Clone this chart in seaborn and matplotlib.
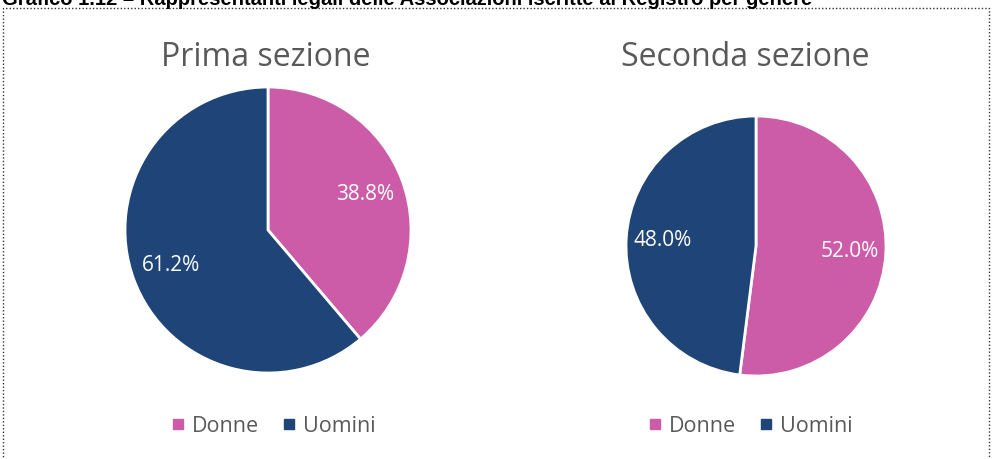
import matplotlib
matplotlib.use("Agg")
import matplotlib.pyplot as plt
import seaborn as sns
from matplotlib.lines import Line2D
from matplotlib.patches import Rectangle

# data
genders = ["Donne", "Uomini"]
prima_sezione = [38.8, 61.2]
seconda_sezione = [52.0, 48.0]
section_titles = ["Prima sezione", "Seconda sezione"]
header = "Grafico 1.12 \u2013 Rappresentanti legali delle Associazioni iscritte al Registro per genere"

colors = ["#CC5CA8", "#1F4478"]
grey = "#595959"

sns.set_theme(style="white")
plt.rcParams["font.family"] = ["Open Sans", "DejaVu Sans"]

fig = plt.figure(figsize=(9.92, 4.59), dpi=100)
W, H = 992, 459


def add_pie(values, title, cx, cy, r, tx, lx):
    ax = fig.add_axes([(cx - r) / W, 1 - (cy + r) / H, 2 * r / W, 2 * r / H])
    ax.pie(values, colors=colors, startangle=90, counterclock=False,
           autopct="%1.1f%%", pctdistance=0.72, radius=1,
           wedgeprops=dict(edgecolor="white", linewidth=2, clip_on=False),
           textprops=dict(color="white", fontsize=15))
    ax.set_xlim(-1, 1)
    ax.set_ylim(-1, 1)
    ax.axis("off")
    fig.text(tx / W, 1 - 57 / H, title, ha="center", va="center",
             fontsize=23, color=grey)
    handles = [Line2D([], [], marker="s", linestyle="none", markersize=6.5,
                      markerfacecolor=c, markeredgecolor=c) for c in colors]
    fig.legend(handles, genders, loc="center", ncol=2, frameon=False,
               bbox_to_anchor=(lx / W, 1 - 426 / H), fontsize=15.5,
               labelcolor=grey, handletextpad=0.3, columnspacing=1.0,
               handlelength=0.7)
    return ax


add_pie(prima_sezione, section_titles[0], 268, 230, 143, 266, 273)
add_pie(seconda_sezione, section_titles[1], 756, 246, 130, 745, 750)

# header cut by the top edge, and the dotted frame
fig.text(2 / W, 1 - 5 / H, header, ha="left", va="baseline", fontsize=14.5,
         fontweight="bold", color="black", family="Liberation Sans")
fig.patches.append(Rectangle((3 / W, -0.1), 986 / W, 1.1 - 8 / H,
                             transform=fig.transFigure, fill=False,
                             edgecolor="#333333", linestyle=(0, (1, 1.5)),
                             linewidth=1))

fig.savefig("out.png", dpi=100)
